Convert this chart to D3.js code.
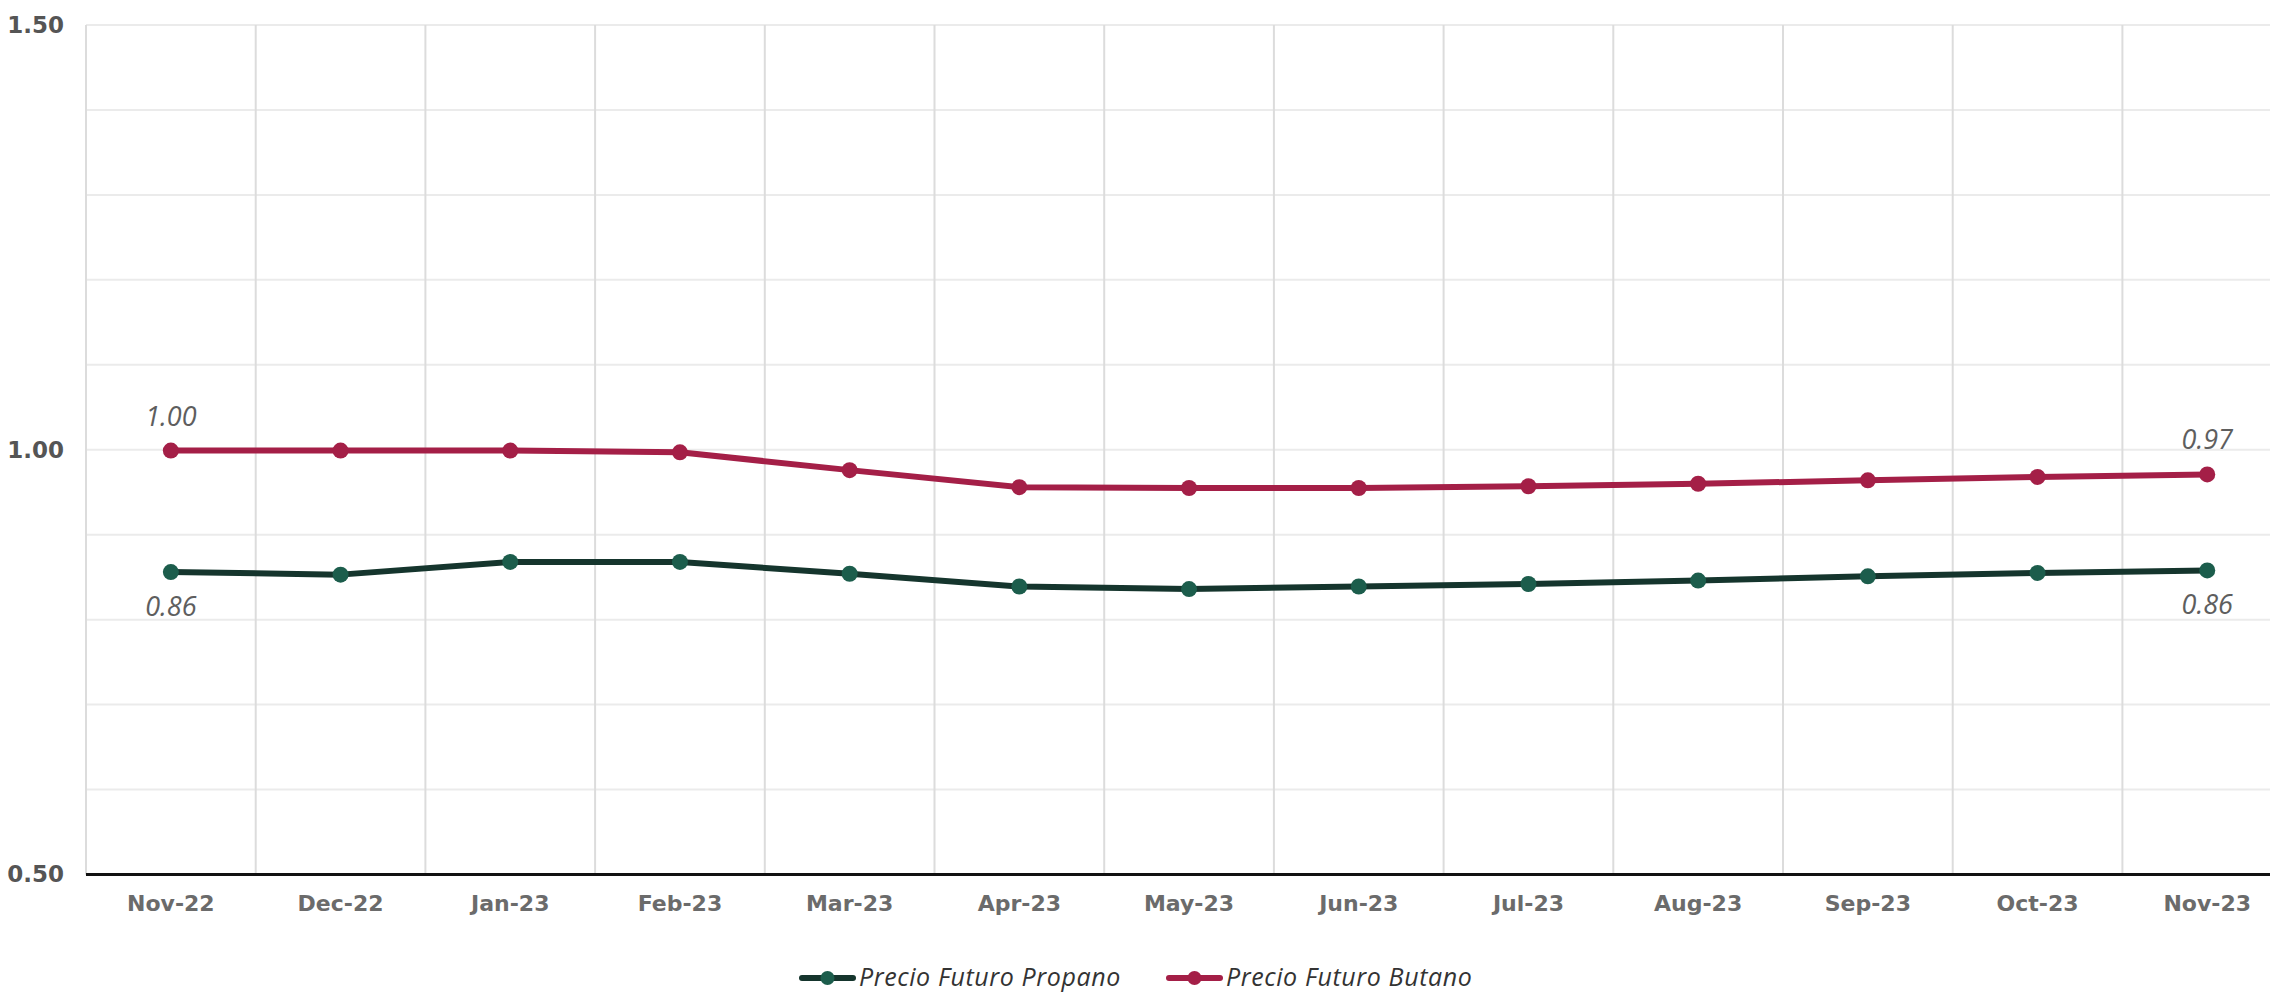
<!DOCTYPE html>
<html>
<head>
<meta charset="utf-8">
<script src="https://cdn.jsdelivr.net/npm/d3@7"></script>
<style>
  body { margin: 0; background: #fff; }
  svg { display: block; }
  .ylab text { font-family: "DejaVu Sans", sans-serif; font-weight: bold; font-size: 23px; fill: #555; }
  .xlab text { font-family: "DejaVu Sans", sans-serif; font-weight: bold; font-size: 22px; fill: #6b6b6b; }
  .dlabel { font-family: "Open Sans", sans-serif; font-style: italic; font-weight: 400; font-size: 27px; fill: #5e5e5e; }
  .legend text { font-family: "Open Sans", sans-serif; font-style: italic; font-weight: 400; font-size: 25px; fill: #333; letter-spacing: 0.6px; }
</style>
</head>
<body>
<svg id="chart"></svg>
<script>
  // data
  var months = ["Nov-22", "Dec-22", "Jan-23", "Feb-23", "Mar-23", "Apr-23", "May-23",
                "Jun-23", "Jul-23", "Aug-23", "Sep-23", "Oct-23", "Nov-23"];
  var propano = [0.856, 0.853, 0.868, 0.868, 0.854, 0.839, 0.836, 0.839, 0.842, 0.846, 0.851, 0.855, 0.858];
  var butano  = [0.999, 0.999, 0.999, 0.997, 0.976, 0.956, 0.955, 0.955, 0.957, 0.960, 0.964, 0.968, 0.971];
  var yTicks = [0.50, 1.00, 1.50];
  var seriesNames = ["Precio Futuro Propano", "Precio Futuro Butano"];

  var width = 2270, height = 995;
  var plotLeft = 86, plotTop = 25, plotBottom = 874.5;

  var svg = d3.select("#chart")
    .attr("width", width)
    .attr("height", height);

  // band scale runs past the right edge, like the original
  var x = d3.scaleBand()
    .domain(months)
    .range([plotLeft, plotLeft + 13 * 169.7])
    .padding(0);
  var bw = x.bandwidth();

  var y = d3.scaleLinear()
    .domain([0.5, 1.5])
    .range([plotBottom, plotTop]);

  // horizontal grid every 0.1
  svg.append("g")
    .selectAll("line")
    .data(d3.range(6, 16).map(function (d) { return d / 10; }))
    .enter().append("line")
      .attr("x1", plotLeft)
      .attr("x2", width)
      .attr("y1", function (d) { return y(d); })
      .attr("y2", function (d) { return y(d); })
      .attr("stroke", "#ebebeb")
      .attr("stroke-width", 2);

  // vertical grid at band edges
  svg.append("g")
    .selectAll("line")
    .data(months)
    .enter().append("line")
      .attr("x1", function (d) { return x(d); })
      .attr("x2", function (d) { return x(d); })
      .attr("y1", plotTop)
      .attr("y2", plotBottom)
      .attr("stroke", "#dcdcdc")
      .attr("stroke-width", 2);

  // y labels
  svg.append("g")
    .attr("class", "ylab")
    .attr("transform", "translate(" + plotLeft + ",0)")
    .call(d3.axisLeft(y).tickValues(yTicks).tickSize(0).tickPadding(22)
      .tickFormat(d3.format(".2f")))
    .call(function (g) { g.select(".domain").remove(); });

  // x labels
  svg.append("g")
    .attr("class", "xlab")
    .attr("transform", "translate(0," + plotBottom + ")")
    .call(d3.axisBottom(x).tickSize(0).tickPadding(21))
    .call(function (g) { g.select(".domain").remove(); });

  // base axis line
  svg.append("line")
    .attr("x1", plotLeft)
    .attr("x2", width)
    .attr("y1", plotBottom)
    .attr("y2", plotBottom)
    .attr("stroke", "#111")
    .attr("stroke-width", 3);

  var series = [
    { name: seriesNames[0], values: propano, line: "#15352d", dot: "#1c5d4c", labelDy: 44 },
    { name: seriesNames[1], values: butano,  line: "#a41f47", dot: "#a41f47", labelDy: -25 }
  ];

  var line = d3.line()
    .x(function (d, i) { return x(months[i]) + bw / 2; })
    .y(function (d) { return y(d); });

  series.forEach(function (s) {
    svg.append("path")
      .datum(s.values)
      .attr("fill", "none")
      .attr("stroke", s.line)
      .attr("stroke-width", 6)
      .attr("stroke-linejoin", "round")
      .attr("d", line);

    svg.append("g")
      .selectAll("circle")
      .data(s.values)
      .enter().append("circle")
        .attr("cx", function (d, i) { return x(months[i]) + bw / 2; })
        .attr("cy", function (d) { return y(d); })
        .attr("r", 8)
        .attr("fill", s.dot);

    // labels on the first and last point
    var ends = [0, s.values.length - 1];
    svg.append("g")
      .selectAll("text")
      .data(ends)
      .enter().append("text")
        .attr("class", "dlabel")
        .attr("x", function (i) { return x(months[i]) + bw / 2; })
        .attr("y", function (i) { return y(s.values[i]) + s.labelDy; })
        .attr("text-anchor", "middle")
        .text(function (i) { return d3.format(".2f")(s.values[i]); });
  });

  // legend
  var legend = svg.append("g")
    .attr("class", "legend")
    .attr("transform", "translate(0,978)");

  var lx = [800, 1167];
  series.forEach(function (s, i) {
    var g = legend.append("g").attr("transform", "translate(" + lx[i] + ",0)");
    g.append("line")
      .attr("x1", 2).attr("x2", 53)
      .attr("y1", 0).attr("y2", 0)
      .attr("stroke", s.line)
      .attr("stroke-width", 6)
      .attr("stroke-linecap", "round");
    g.append("circle")
      .attr("cx", 27.5).attr("cy", 0).attr("r", 7)
      .attr("fill", s.dot);
    g.append("text")
      .attr("x", 59)
      .attr("y", 8)
      .text(s.name);
  });
</script>
</body>
</html>
